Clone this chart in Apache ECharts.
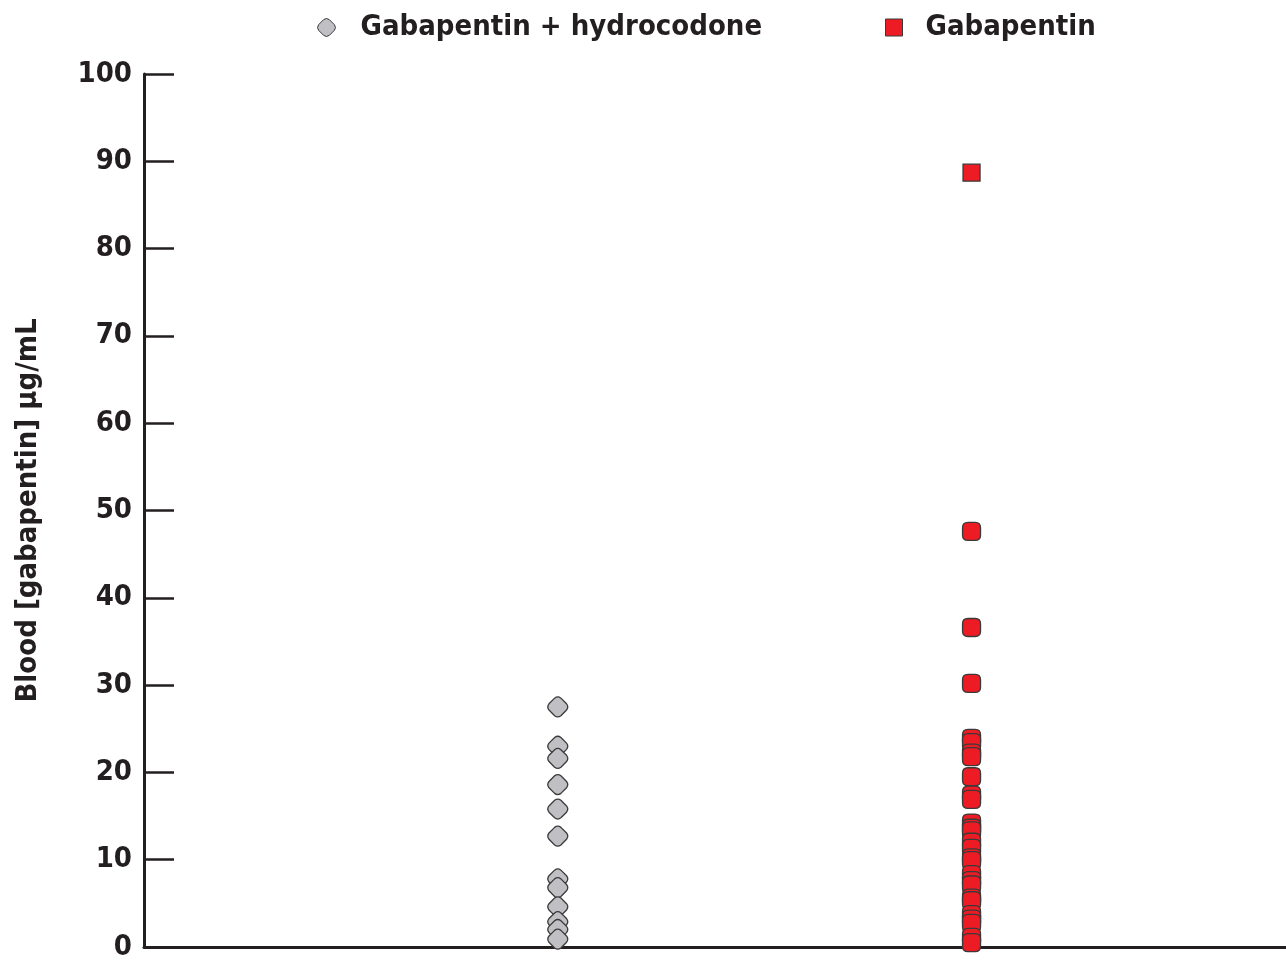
<!DOCTYPE html>
<html>
<head>
<meta charset="utf-8">
<style>html,body{margin:0;padding:0;background:#fff}#c{width:1286px;height:960px}</style>
<script src="https://cdn.jsdelivr.net/npm/echarts@6/dist/echarts.min.js"></script>
</head>
<body>
<div id="c"></div>
<script>
var seriesNames = ['Gabapentin + hydrocodone', 'Gabapentin'];
var groupPositions = [1, 2];
var comboValues = [27.5, 23.0, 21.6, 18.6, 15.8, 12.7, 7.8, 6.8, 4.6, 2.9, 2.0, 0.9];
var gabaValues = [88.7, 47.6, 36.6, 30.2, 23.9, 23.4, 22.2, 21.8, 19.5, 17.4, 16.9, 14.2, 13.6, 13.3, 12.0, 11.3, 10.2, 9.9, 8.3, 7.6, 7.1, 5.6, 5.3, 3.7, 3.2, 2.7, 1.1, 0.5];
var yTicks = [0, 10, 20, 30, 40, 50, 60, 70, 80, 90, 100];
var yName = 'Blood [gabapentin] \u00b5g/mL';

var FONT = '"DejaVu Sans Condensed", "Liberation Sans Narrow", "Arial Narrow", sans-serif';
var roundSq = 'path://M3,0 H7 Q10,0 10,3 V7 Q10,10 7,10 H3 Q0,10 0,7 V3 Q0,0 3,0 Z';
var roundDia = 'path://M3.6,1.1 Q5,0 6.4,1.1 L8.9,3.6 Q10,5 8.9,6.4 L6.4,8.9 Q5,10 3.6,8.9 L1.1,6.4 Q0,5 1.1,3.6 Z';
var TXT = '#231f20';
var FS = 29;

var chart = echarts.init(document.getElementById('c'), null, {renderer: 'canvas'});
chart.setOption({
  animation: false,
  backgroundColor: '#fff',
  grid: {left: 144, right: 0, top: 74, bottom: 13, containLabel: false, outerBoundsMode: 'none'},
  legend: [
    {
      top: 8, left: 312, itemWidth: 18, itemHeight: 18,
      textStyle: {fontFamily: FONT, fontWeight: 'bold', fontSize: FS, color: TXT, padding: [0, 0, 0, 20]},
      data: [{name: seriesNames[0], icon: roundDia, itemStyle: {color: '#c0c0c4', borderColor: '#3a3a3a', borderWidth: 1}}]
    },
    {
      top: 8, left: 880, itemWidth: 17, itemHeight: 17,
      textStyle: {fontFamily: FONT, fontWeight: 'bold', fontSize: FS, color: TXT, padding: [0, 0, 0, 18]},
      data: [{name: seriesNames[1], icon: 'rect', itemStyle: {color: '#ed1c24', borderColor: '#3a3a3a', borderWidth: 1}}]
    }
  ],
  xAxis: {
    type: 'value', min: 0, max: 2.76,
    axisLine: {show: true, lineStyle: {color: TXT, width: 3}},
    axisTick: {show: false}, axisLabel: {show: false}, splitLine: {show: false}
  },
  yAxis: {
    type: 'value', min: 0, max: 100, interval: 10,
    name: yName, nameLocation: 'middle', nameGap: 101,
    nameTextStyle: {fontFamily: FONT, fontWeight: 'bold', fontSize: FS, color: TXT},
    axisLine: {show: true, lineStyle: {color: TXT, width: 3}},
    axisTick: {show: true, inside: true, length: 30, lineStyle: {color: TXT, width: 2.5}},
    axisLabel: {
      margin: 12, fontFamily: FONT, fontWeight: 'bold', fontSize: FS, color: TXT,
      formatter: function (v) { return yTicks.indexOf(v) >= 0 ? String(v) : ''; }
    },
    splitLine: {show: false}
  },
  series: [
    {
      name: seriesNames[0], type: 'scatter',
      symbol: roundDia, symbolSize: 20,
      itemStyle: {color: '#c0c0c4', borderColor: '#3a3a3a', borderWidth: 1.3, opacity: 1},
      data: comboValues.map(function (v) { return [groupPositions[0], v]; })
    },
    {
      name: seriesNames[1], type: 'scatter',
      symbol: roundSq, symbolSize: 18,
      itemStyle: {color: '#ed1c24', borderColor: '#3a3a3a', borderWidth: 1.3, opacity: 1},
      data: gabaValues.map(function (v, i) {
        var d = {value: [groupPositions[1], v]};
        if (i === 0) { d.symbol = 'rect'; d.symbolSize = 17; }
        return d;
      })
    }
  ]
});
</script>
</body>
</html>
